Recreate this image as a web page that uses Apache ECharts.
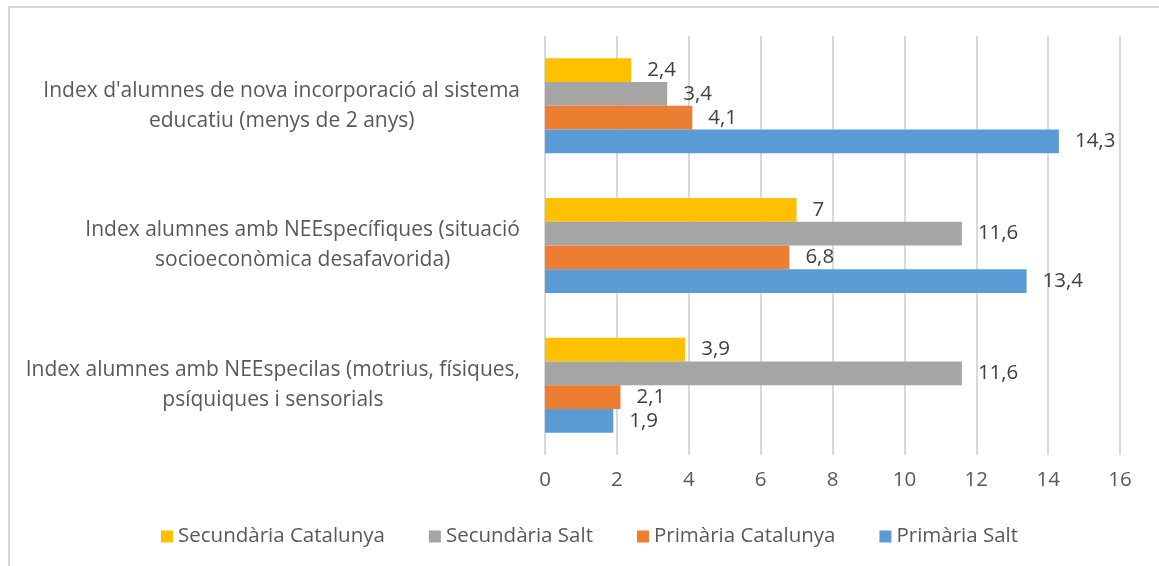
<!DOCTYPE html>
<html style="height: 100%;">
<head>
    <meta charset="utf-8">
    <script src="https://cdn.jsdelivr.net/npm/echarts@6/dist/echarts.min.js"></script>
</head>
<body style="height: 100%; margin: 0; background-color: #fff;">
    <div style="position: absolute; left: 8px; top: 6px; width: 1151px; height: 2px; background: #d9d9d9;"></div>
    <div style="position: absolute; left: 8px; top: 6px; width: 2px; height: 560px; background: #d9d9d9;"></div>
    <div id="container" style="position: absolute; left: 0; top: 0; width: 1159px; height: 566px;"></div>
    <script type="text/javascript">
// categories, top to bottom as in the picture
var categories = [
    "Index d'alumnes de nova incorporació al sistema\neducatiu (menys de 2 anys)",
    "Index alumnes amb NEEspecífiques (situació\nsocioeconòmica desafavorida)",
    "Index alumnes amb NEEspecilas (motrius, físiques,\npsíquiques i sensorials"
];
var seriesNames = ['Secundària Catalunya', 'Secundària Salt', 'Primària Catalunya', 'Primària Salt'];
var secCatalunya = [2.4, 7, 3.9];
var secSalt = [3.4, 11.6, 11.6];
var priCatalunya = [4.1, 6.8, 2.1];
var priSalt = [14.3, 13.4, 1.9];
var colors = ['#FFC000', '#A5A5A5', '#ED7D31', '#5B9BD5'];

var font = 'Open Sans';
var fs = 20.5;
var myChart = echarts.init(document.getElementById('container'));

function makeSeries(name, values, color) {
    return {
        name: name,
        type: 'bar',
        data: values,
        barGap: '0%',
        barCategoryGap: '32%',
        itemStyle: { color: color },
        label: {
            show: true,
            position: 'right',
            distance: 16,
            color: '#404040',
            fontFamily: font,
            fontSize: fs,
            formatter: function (p) { return String(p.value).replace('.', ','); }
        }
    };
}

var option = {
    animation: false,
    color: colors,
    grid: { left: 545, right: 39, top: 36, bottom: 111 },
    legend: {
        data: seriesNames,
        left: 156,
        top: 521,
        itemWidth: 12,
        itemHeight: 12,
        itemGap: 44,
        icon: 'rect',
        textStyle: { color: '#595959', fontFamily: font, fontSize: fs }
    },
    xAxis: {
        type: 'value',
        min: 0,
        max: 16,
        interval: 2,
        axisLine: { show: false },
        axisTick: { show: false },
        splitLine: { lineStyle: { color: '#d9d9d9', width: 2 } },
        axisLabel: { color: '#595959', fontFamily: font, fontSize: fs, margin: 15 }
    },
    yAxis: {
        type: 'category',
        inverse: true,
        data: categories,
        axisLine: { show: false },
        axisTick: { show: false },
        axisLabel: {
            margin: 25,
            align: 'right',
            formatter: function (v) {
                return v.split('\n').map(function (s) { return '{c|' + s + '}'; }).join('\n');
            },
            rich: {
                c: { align: 'center', color: '#595959', fontFamily: font, fontSize: 21, lineHeight: 30 }
            }
        }
    },
    series: [
        makeSeries(seriesNames[0], secCatalunya, colors[0]),
        makeSeries(seriesNames[1], secSalt, colors[1]),
        makeSeries(seriesNames[2], priCatalunya, colors[2]),
        makeSeries(seriesNames[3], priSalt, colors[3])
    ]
};
myChart.setOption(option);
    </script>
</body>
</html>
